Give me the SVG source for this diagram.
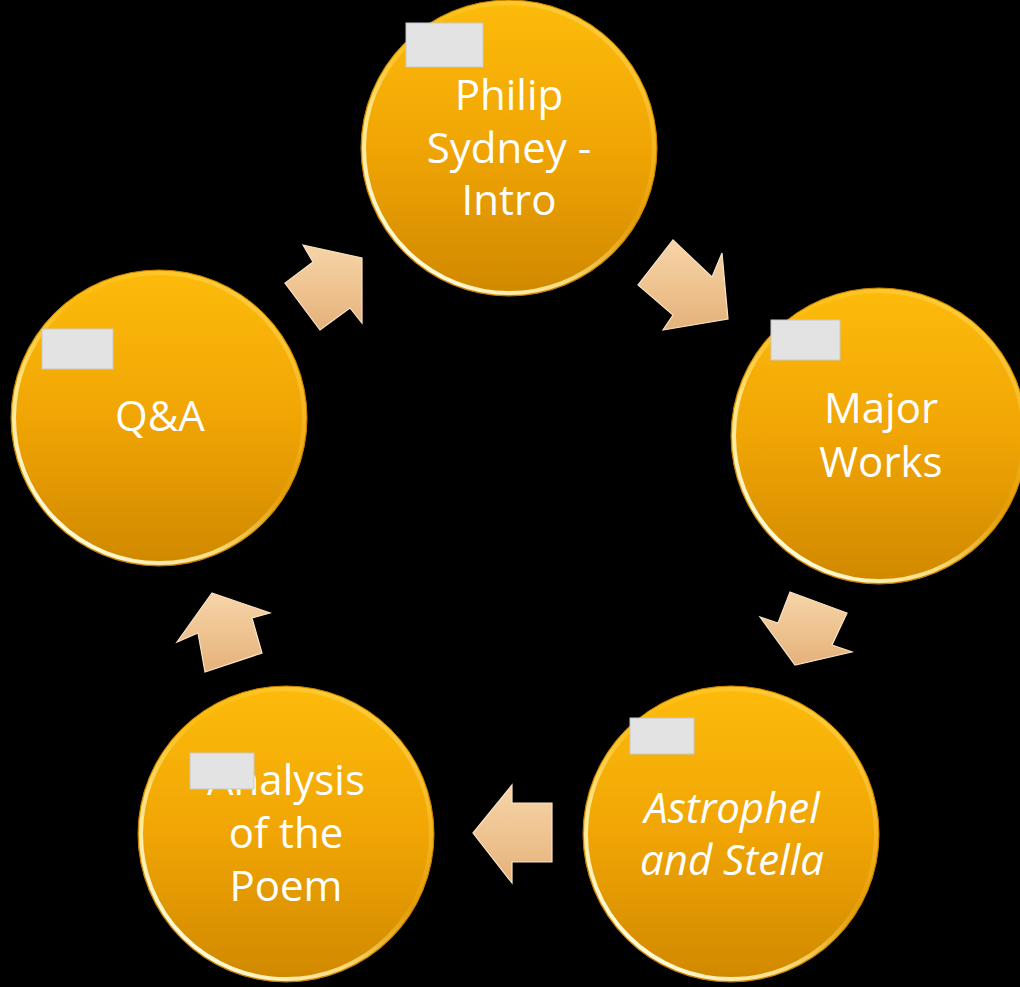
<svg xmlns="http://www.w3.org/2000/svg" width="1020" height="987" viewBox="0 0 1020 987">
  <defs>
    <linearGradient id="ballFill" x1="0" y1="0" x2="0" y2="1">
      <stop offset="0" stop-color="#FDBB0B"/>
      <stop offset="0.5" stop-color="#F0A504"/>
      <stop offset="1" stop-color="#D08800"/>
    </linearGradient>
    <linearGradient id="rimLight" x1="0.85" y1="0.1" x2="0.15" y2="0.9">
      <stop offset="0" stop-color="#FFE27A" stop-opacity="0.45"/>
      <stop offset="0.4" stop-color="#FFD84A" stop-opacity="0.1"/>
      <stop offset="0.7" stop-color="#FFF09A" stop-opacity="0.8"/>
      <stop offset="1" stop-color="#FFFDE6" stop-opacity="1"/>
    </linearGradient>
    <linearGradient id="arrowFill" x1="0" y1="0" x2="0" y2="1">
      <stop offset="0" stop-color="#F6D4A8"/>
      <stop offset="0.5" stop-color="#EFC491"/>
      <stop offset="1" stop-color="#E4B17A"/>
    </linearGradient>
    <style>
      .ball { fill: url(#ballFill); stroke: #C98300; stroke-width: 1; }
      .rim { fill: none; stroke: url(#rimLight); stroke-width: 4; }
      .tag { fill: #E3E3E3; stroke: #C8C8C8; stroke-width: 1; }
      .label { fill: #FFFFFF; font-family: "Open Sans", "Noto Sans", sans-serif; font-size: 42px; text-anchor: middle; }
      .it { font-style: italic; }
      .arrow { fill: url(#arrowFill); stroke: #FBE3C3; stroke-width: 1.2; stroke-linejoin: miter; }
    </style>
  </defs>
  <rect x="0" y="0" width="1020" height="987" fill="#000000"/>

  <g id="connectors">
    <polygon class="arrow" points="673,240 712,277 722,253 728,319 663,330 673,315 638,285"/>
    <polygon class="arrow" points="790,592 847,613 832,645 852,652 795,665 760,617 778,623"/>
    <polygon class="arrow" points="473,833 512,785 512,803 552,803 552,862 512,862 512,883"/>
    <polygon class="arrow" points="212,593 270,613 252,618 262,653 205,672 198,633 177,642"/>
    <polygon class="arrow" points="303,245 362,258 362,323 350,308 320,330 285,283 313,262"/>
  </g>

  <g id="node-intro">
    <circle class="ball" cx="509" cy="148" r="148"/>
    <circle class="rim" cx="509" cy="148" r="145"/>
    <text class="label" x="509" y="110">Philip</text>
    <text class="label" x="509" y="163">Sydney -</text>
    <text class="label" x="509" y="215">Intro</text>
    <rect class="tag" x="406" y="23" width="77" height="44"/>
  </g>

  <g id="node-major-works">
    <circle class="ball" cx="879" cy="436" r="148"/>
    <circle class="rim" cx="879" cy="436" r="145"/>
    <text class="label" x="881" y="423">Major</text>
    <text class="label" x="881" y="477">Works</text>
    <rect class="tag" x="771" y="320" width="69" height="40"/>
  </g>

  <g id="node-astrophel">
    <circle class="ball" cx="731" cy="834" r="148"/>
    <circle class="rim" cx="731" cy="834" r="145"/>
    <text class="label it" x="732" y="823">Astrophel</text>
    <text class="label it" x="732" y="875">and Stella</text>
    <rect class="tag" x="630" y="718" width="64" height="36"/>
  </g>

  <g id="node-analysis">
    <circle class="ball" cx="286" cy="834" r="148"/>
    <circle class="rim" cx="286" cy="834" r="145"/>
    <text class="label" x="286" y="795">Analysis</text>
    <text class="label" x="286" y="848">of the</text>
    <text class="label" x="286" y="901">Poem</text>
    <rect class="tag" x="190" y="753" width="64" height="36"/>
  </g>

  <g id="node-qa">
    <circle class="ball" cx="159" cy="418" r="148"/>
    <circle class="rim" cx="159" cy="418" r="145"/>
    <text class="label" x="160" y="431">Q&amp;A</text>
    <rect class="tag" x="42" y="329" width="71" height="40"/>
  </g>
</svg>
